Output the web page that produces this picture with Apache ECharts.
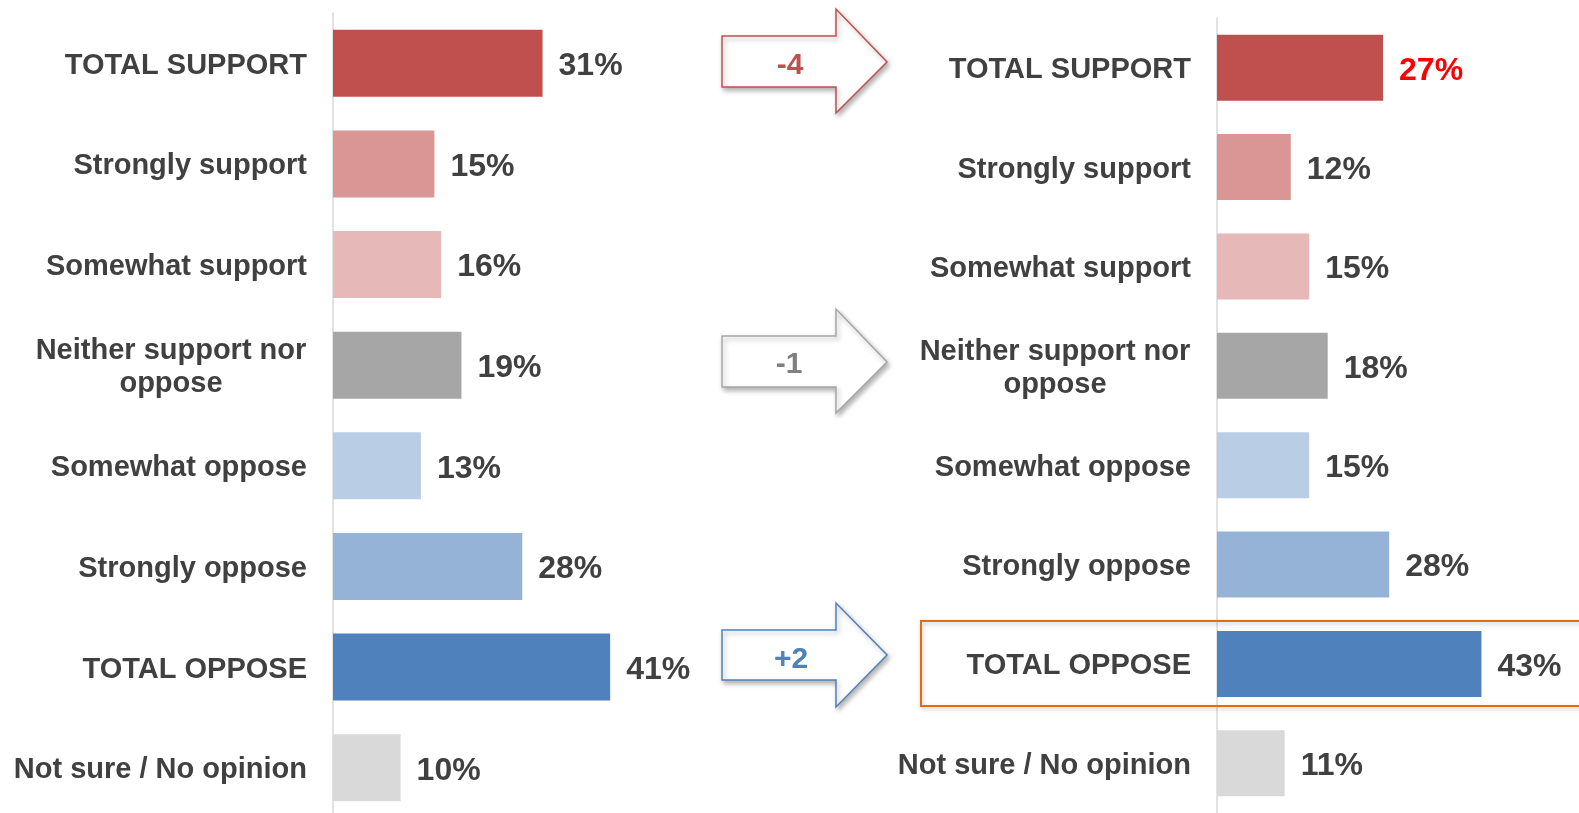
<!DOCTYPE html>
<html>
<head>
<meta charset="utf-8">
<script src="https://cdn.jsdelivr.net/npm/echarts@6/dist/echarts.min.js"></script>
<style>
html,body{margin:0;padding:0;background:#fff;overflow:hidden;}
#chart{width:1579px;height:840px;}
</style>
</head>
<body>
<div id="chart"></div>
<script>
const categories = ['TOTAL SUPPORT','Strongly support','Somewhat support','Neither support nor oppose','Somewhat oppose','Strongly oppose','TOTAL OPPOSE','Not sure / No opinion'];
const beforeValues = [31, 15, 16, 19, 13, 28, 41, 10];
const afterValues = [27, 12, 15, 18, 15, 28, 43, 11];
const barColors = ['#C0504D','#D99694','#E6B9B8','#A6A6A6','#B9CDE5','#95B3D7','#4F81BD','#D9D9D9'];

const FONT = '"Liberation Sans", Arial, sans-serif';
const TXT = '#404040';

function labelFormatter(v){
  if (v === 'Neither support nor oppose') return '{c|Neither support nor}\n{c|oppose}';
  return v;
}
function yAxisFor(gi){
  return {
    type:'category', gridIndex:gi, inverse:true, data:categories,
    axisTick:{show:false},
    axisLine:{show:true, lineStyle:{color:'#D9D9D9', width:1.5}},
    axisLabel:{
      margin:26, fontSize:29, fontWeight:'bold', color:TXT, fontFamily:FONT,
      lineHeight:33, padding:[5,0,0,0], formatter:labelFormatter,
      rich:{c:{width:272, align:'center', fontSize:29, fontWeight:'bold', color:TXT, fontFamily:FONT, lineHeight:33}}
    }
  };
}
function makeData(vals, firstLabelColor){
  return vals.map((v,i)=>{
    const d = {value:v, itemStyle:{color:barColors[i]}};
    if (i===0 && firstLabelColor) d.label = {color:firstLabelColor};
    return d;
  });
}
function fmtDelta(d){ return (d>0?'+':'') + d; }

const chart = echarts.init(document.getElementById('chart'));
const deltaSupport = afterValues[0]-beforeValues[0];
const deltaNeither = afterValues[3]-beforeValues[3];
const deltaOppose = afterValues[6]-beforeValues[6];

function arrow(shaftTop, shaftBot, headTop, headBot, tipY, stroke){
  return {
    type:'polygon', z:10,
    shape:{points:[[722,shaftTop],[836,shaftTop],[836,headTop],[887,tipY],[836,headBot],[836,shaftBot],[722,shaftBot]]},
    style:{fill:'#fff', stroke:stroke, lineWidth:1.5, shadowBlur:5, shadowOffsetX:2, shadowOffsetY:3, shadowColor:'rgba(0,0,0,0.3)'}
  };
}
function arrowText(x, y, text, color){
  return {type:'text', z:11, x:x, y:y, style:{text:text, fill:color, font:'bold 30px ' + FONT, align:'center', verticalAlign:'middle'}};
}
const valueLabel = {show:true, position:'right', distance:16, offset:[0,3], formatter:'{c}%', fontSize:32, fontWeight:'bold', color:TXT, fontFamily:FONT};

chart.setOption({
  animation:false,
  grid:[
    {left:333, top:13, width:338, height:805},
    {left:1217, top:18, width:307.5, height:795}
  ],
  xAxis:[
    {type:'value', gridIndex:0, min:0, max:50, show:false},
    {type:'value', gridIndex:1, min:0, max:50, show:false}
  ],
  yAxis:[yAxisFor(0), yAxisFor(1)],
  series:[
    {type:'bar', xAxisIndex:0, yAxisIndex:0, barWidth:67, data:makeData(beforeValues), label:valueLabel},
    {type:'bar', xAxisIndex:1, yAxisIndex:1, barWidth:66, data:makeData(afterValues,'#FF0000'), label:valueLabel}
  ],
  graphic:[
    arrow(36, 87, 9, 113, 62, '#C0504D'),
    arrowText(790, 66, fmtDelta(deltaSupport), '#C0504D'),
    arrow(336, 387, 309, 413, 362, '#A6A6A6'),
    arrowText(789, 365, fmtDelta(deltaNeither), '#808080'),
    arrow(630, 680, 603, 707, 655, '#4F81BD'),
    arrowText(791, 660, fmtDelta(deltaOppose), '#4F81BD'),
    {type:'rect', z:12, shape:{x:921, y:621, width:700, height:85},
     style:{fill:'none', stroke:'#E46C0A', lineWidth:2, shadowBlur:4, shadowOffsetX:1, shadowOffsetY:2, shadowColor:'rgba(0,0,0,0.25)'}}
  ]
});
</script>
</body>
</html>
